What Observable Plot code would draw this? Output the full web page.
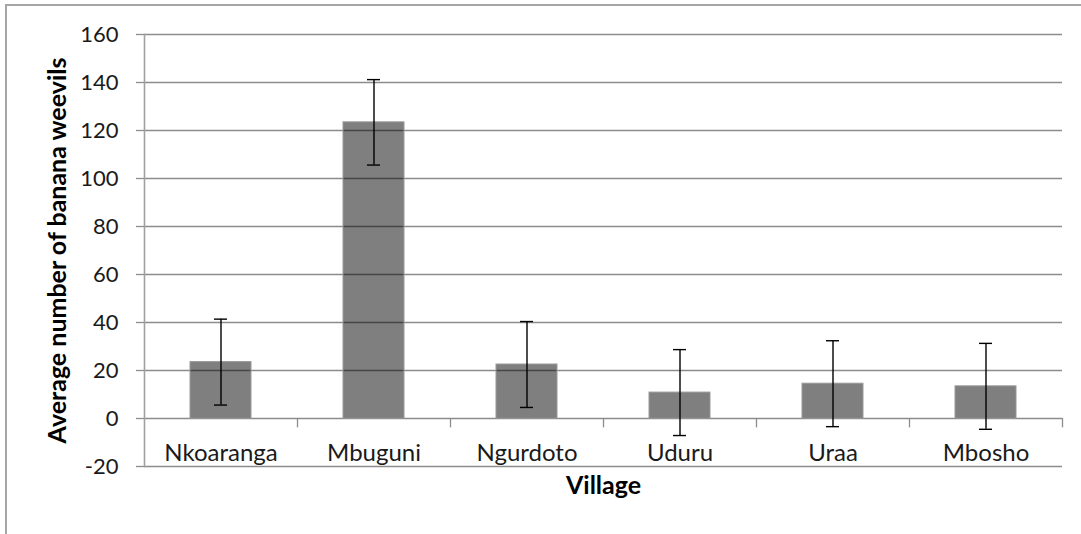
<!DOCTYPE html>
<html>
<head>
<meta charset="utf-8">
<script src="https://cdn.jsdelivr.net/npm/d3@7"></script>
<script src="https://cdn.jsdelivr.net/npm/@observablehq/plot@0.6"></script>
<style>
  html, body { margin: 0; padding: 0; background: #fff; }
  #wrap { position: relative; width: 1081px; height: 534px; overflow: hidden; }
  #border { position: absolute; left: 5px; top: 4px; width: 1200px; height: 700px;
            border-left: 2px solid #a6a6a6; border-top: 2px solid #a6a6a6; pointer-events: none; }
  svg { font-family: Lato, "Open Sans", sans-serif; }
</style>
</head>
<body>
<div id="wrap"><div id="border"></div></div>
<script>
const villages = ["Nkoaranga", "Mbuguni", "Ngurdoto", "Uduru", "Uraa", "Mbosho"];
const means = [23.5, 123.4, 22.5, 10.8, 14.5, 13.4];
const errors = [17.9, 17.8, 17.9, 17.9, 17.9, 17.9];
const yTicks = [-20, 0, 20, 40, 60, 80, 100, 120, 140, 160];

const data = villages.map((v, i) => ({village: v, mean: means[i], err: errors[i]}));

const W = 1081, H = 534, ML = 144, MR = 19, MT = 34, MB = 68;
const step = (W - ML - MR) / villages.length;
const grid = "#8c8c8c";
const font = "Lato, 'Open Sans', sans-serif";

const chart = Plot.plot({
  width: W, height: H,
  marginLeft: ML, marginRight: MR, marginTop: MT, marginBottom: MB,
  style: {fontFamily: font, background: "transparent"},
  x: {domain: villages, paddingInner: 0.6, paddingOuter: 0.3, axis: null},
  y: {domain: [-20, 160], axis: null},
  marks: [
    Plot.ruleY(yTicks, {stroke: grid, strokeWidth: 1.3}),
    Plot.axisY({ticks: yTicks, tickSize: 8, tickFormat: () => "", stroke: grid, strokeWidth: 1.3, strokeOpacity: 1, label: null}),
    Plot.rectY(data, {x: "village", y1: 0, y2: "mean", fill: "#000", fillOpacity: 0.5, stroke: "#999", strokeWidth: 1}),
    Plot.ruleX(villages, {x: d => d, y1: 0, y2: -3.9, dx: step / 2, stroke: grid, strokeWidth: 1.3}),
    Plot.frame({anchor: "left", stroke: "#a0a0a0", strokeWidth: 1.6}),
    Plot.ruleX(data, {x: "village", y1: d => d.mean - d.err, y2: d => d.mean + d.err, stroke: "#000", strokeWidth: 1.4}),
    Plot.tickY(data, {x: "village", y: d => d.mean + d.err, stroke: "#000", strokeWidth: 1.4, inset: 24}),
    Plot.tickY(data, {x: "village", y: d => d.mean - d.err, stroke: "#000", strokeWidth: 1.4, inset: 24}),
    Plot.text(villages, {x: d => d, y: () => 0, dy: 35, text: d => d, fontSize: 24, fill: "#1a1a1a"}),
    Plot.text(yTicks, {y: d => d, frameAnchor: "left", dx: -26, text: d => String(d), textAnchor: "end", fontSize: 22, fill: "#1a1a1a"}),
    Plot.text(["Average number of banana weevils"], {frameAnchor: "left", dx: -87, rotate: -90, textAnchor: "middle", text: d => d, fontSize: 25, fontWeight: "bold", fill: "#000"}),
    Plot.text(["Village"], {frameAnchor: "bottom", dy: 27, text: d => d, fontSize: 25, fontWeight: "bold", fill: "#000"})
  ]
});
document.getElementById("wrap").prepend(chart);
</script>
</body>
</html>
